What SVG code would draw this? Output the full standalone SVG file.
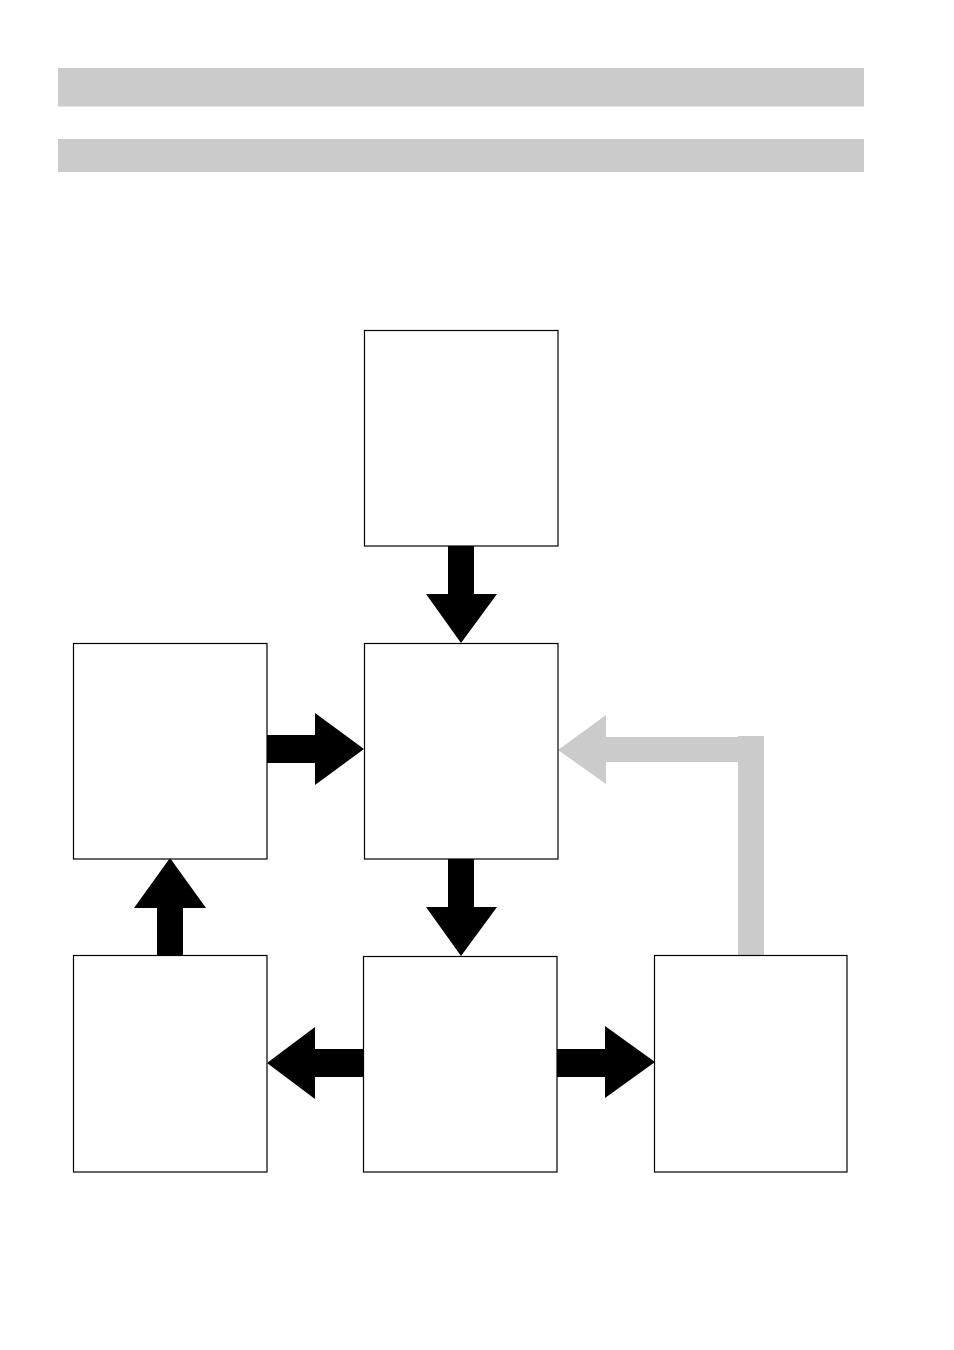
<svg xmlns="http://www.w3.org/2000/svg" width="954" height="1350" viewBox="0 0 954 1350">
<style>
.bar{fill:#cbcbcb}
.node{fill:#fff;stroke:#000;stroke-width:1.2}
.arr{fill:#000}
.garr{fill:#cbcbcb}
</style>
<rect width="954" height="1350" fill="#fff"/>
<g id="header">
<rect class="bar" x="58" y="68" width="806" height="38.5"/>
<rect class="bar" x="58" y="139" width="806" height="33"/>
</g>
<g id="connectors">
<polygon class="arr" points="448,546 474,546 474,594 497,594 461,643 426,594 448,594"/>
<polygon class="arr" points="448,859 474,859 474,907 497,907 461,956 426,907 448,907"/>
<polygon class="arr" points="267,735 315,735 315,713 364,749 315,785 315,763 267,763"/>
<polygon class="arr" points="157,956 157,908 134,908 170,858 206,908 183,908 183,956"/>
<polygon class="arr" points="363,1049 315,1049 315,1027 267,1063 315,1099 315,1077 363,1077"/>
<polygon class="arr" points="557,1049 605,1049 605,1026 655,1062 605,1098 605,1077 557,1077"/>
<polygon class="garr" points="764,956 738,956 738,762 606,762 606,784 558,750 606,715 606,737 738,737 738,736 764,736"/>
</g>
<g id="node-top"><rect class="node" x="364.5" y="330.5" width="193.5" height="215.5"/></g>
<g id="node-center"><rect class="node" x="364.5" y="643.5" width="193.5" height="215.5"/></g>
<g id="node-left"><rect class="node" x="73.5" y="643.5" width="193.5" height="215.5"/></g>
<g id="node-bottom-left"><rect class="node" x="73.5" y="955.5" width="193.5" height="216.5"/></g>
<g id="node-bottom-center"><rect class="node" x="363.5" y="956.5" width="193.5" height="215.5"/></g>
<g id="node-bottom-right"><rect class="node" x="654.5" y="955.5" width="192.5" height="216.5"/></g>
</svg>
